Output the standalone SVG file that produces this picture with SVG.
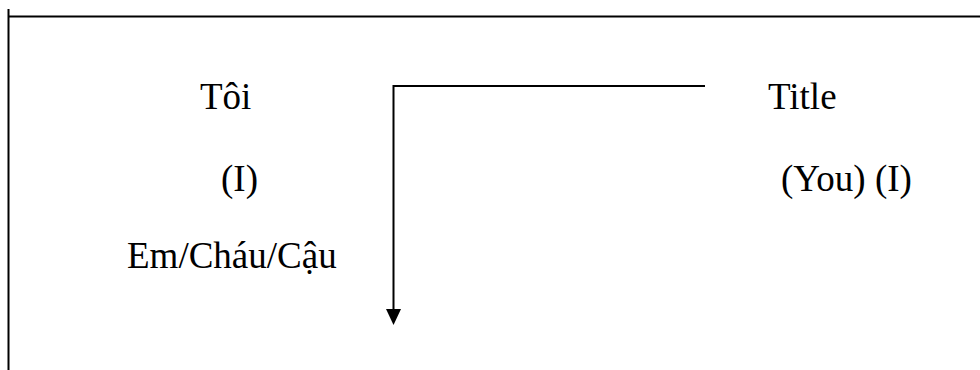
<svg xmlns="http://www.w3.org/2000/svg" width="980" height="370" viewBox="0 0 980 370">
<style>
.t{font-family:"Liberation Serif","Times New Roman",serif;font-size:37px;fill:#000}
.ln{stroke:#000;stroke-width:2;fill:none}
</style>
<rect width="980" height="370" fill="#fff"/>
<g id="frame">
<line class="ln" x1="8" y1="16.5" x2="980" y2="16.5"/>
<line class="ln" x1="8.5" y1="9" x2="8.5" y2="370"/>
</g>
<g id="left">
<text class="t" x="200" y="109">Tôi</text>
<text class="t" x="221" y="191">(I)</text>
<text class="t" x="127" y="268">Em/Cháu/Cậu</text>
</g>
<g id="right">
<text class="t" x="768" y="109">Title</text>
<text class="t" x="781" y="191">(You) (I)</text>
</g>
<g id="connectors">
<path class="ln" d="M705,86 L393.5,86 L393.5,310"/>
<path d="M386,309 L401,309 L393.5,325 Z" fill="#000"/>
</g>
</svg>
